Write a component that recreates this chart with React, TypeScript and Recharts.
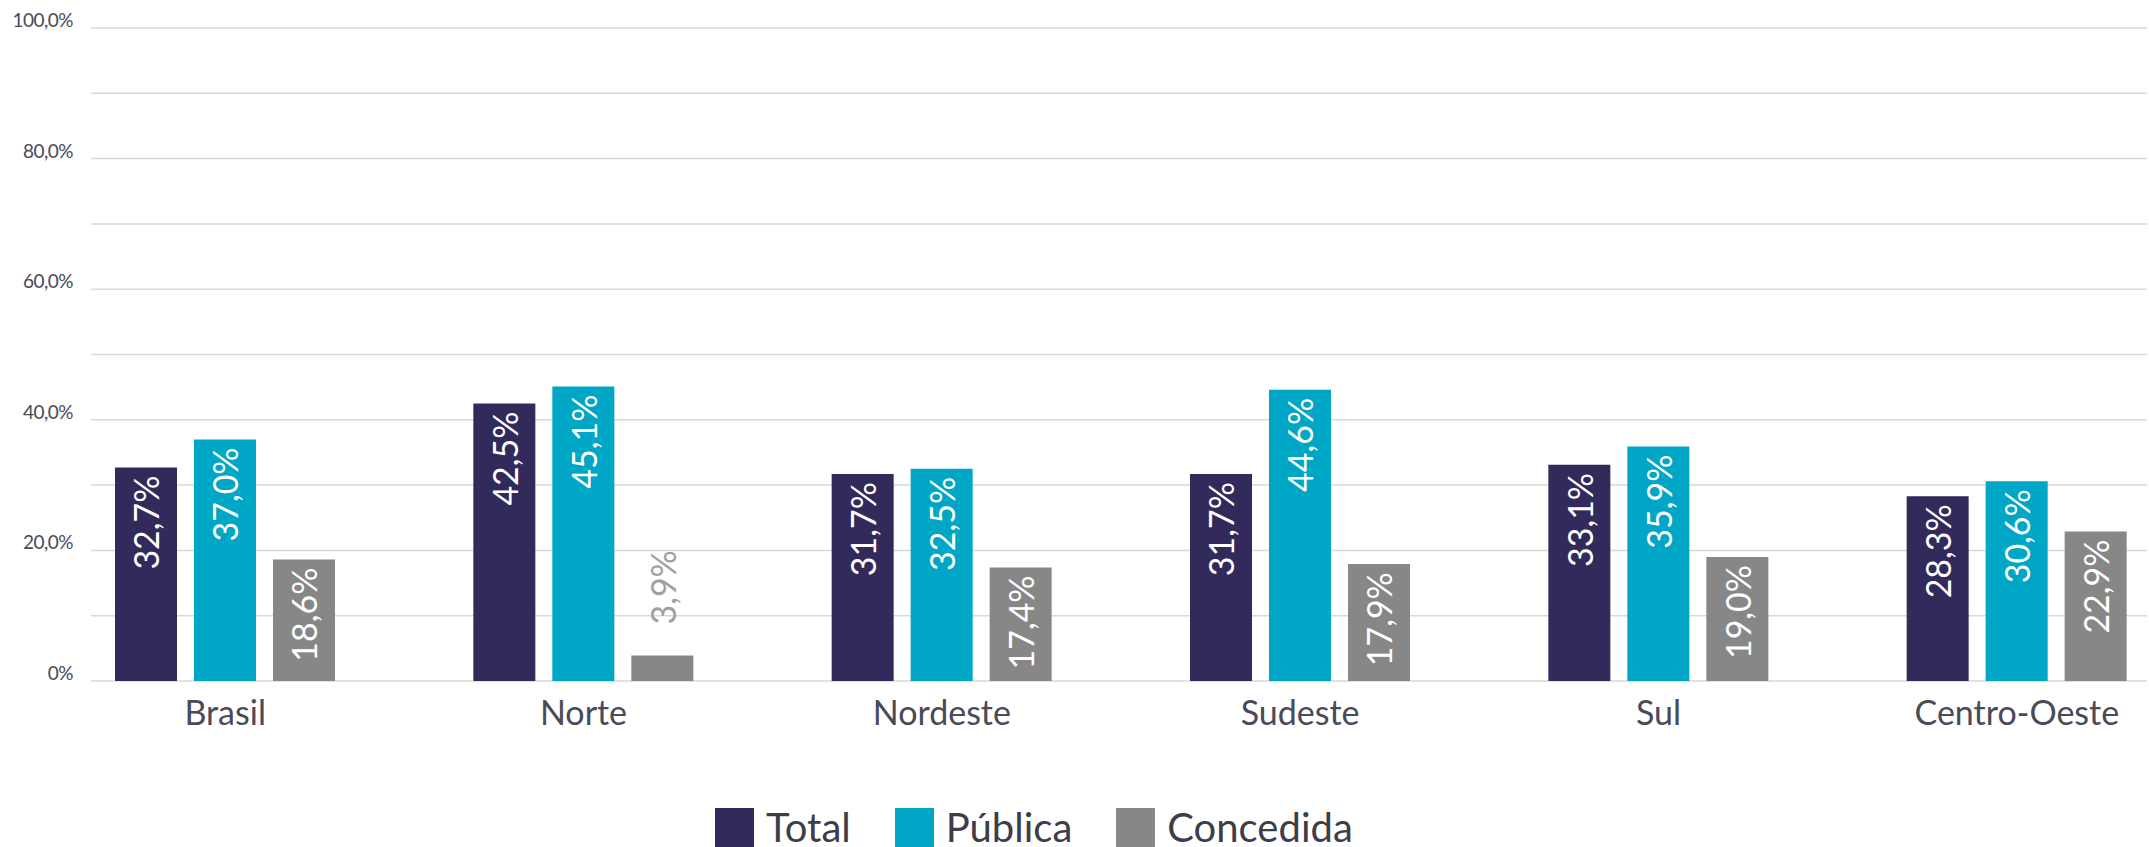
import { BarChart, Bar, XAxis, YAxis, CartesianGrid, Legend, LabelList } from "recharts";

const regions = ["Brasil", "Norte", "Nordeste", "Sudeste", "Sul", "Centro-Oeste"];
const total = [32.7, 42.5, 31.7, 31.7, 33.1, 28.3];
const publica = [37.0, 45.1, 32.5, 44.6, 35.9, 30.6];
const concedida = [18.6, 3.9, 17.4, 17.9, 19.0, 22.9];
const yTicks = [0, 10, 20, 30, 40, 50, 60, 70, 80, 90, 100];

const data = regions.map((region, i) => ({
  region,
  total: total[i],
  publica: publica[i],
  concedida: concedida[i],
}));

const series = [
  { key: "total", name: "Total", color: "#312a5b" },
  { key: "publica", name: "Pública", color: "#00a6c5" },
  { key: "concedida", name: "Concedida", color: "#878787" },
];

const FONT = "Lato, 'Noto Sans', sans-serif";
const fmt = (v: number) => v.toFixed(1).replace(".", ",") + "%";

// value written vertically inside the bar, or above it when the bar is too short
const BarLabel = (props: any) => {
  const { x, y, width, height, value } = props;
  const cx = Number(x) + Number(width) / 2;
  const top = Number(y);
  const inside = Number(height) > 60;
  const ay = inside ? top + 8 : top - 31;
  return (
    <text
      x={cx}
      y={ay}
      transform={`rotate(-90 ${cx} ${ay})`}
      textAnchor={inside ? "end" : "start"}
      dominantBaseline="central"
      fill={inside ? "#ffffff" : "#a0a0a0"}
      fontSize={34}
      fontFamily={FONT}
    >
      {fmt(value)}
    </text>
  );
};

const YTick = (props: any) => {
  const { x, y, payload } = props;
  const v = payload.value;
  if (v % 20 !== 0) return null;
  return (
    <text x={x - 10} y={y - 1} textAnchor="end" fill="#4a4a58" fontSize={19} fontFamily={FONT} letterSpacing={-0.5}>
      {v === 0 ? "0%" : `${v},0%`}
    </text>
  );
};

const XTick = (props: any) => {
  const { x, y, payload } = props;
  return (
    <text x={x} y={y + 36} textAnchor="middle" fill="#4a4a58" fontSize={34} fontFamily={FONT}>
      {payload.value}
    </text>
  );
};

const LegendBox = () => (
  <div style={{ display: "flex", alignItems: "center", fontFamily: FONT, fontSize: 40, color: "#3d3d48" }}>
    {series.map((s, i) => (
      <div key={s.key} style={{ display: "flex", alignItems: "center", marginLeft: i === 0 ? 0 : 44 }}>
        <div style={{ width: 39, height: 39, background: s.color, marginRight: 12 }} />
        <span style={{ lineHeight: "39px" }}>{s.name}</span>
      </div>
    ))}
  </div>
);

export default function App() {
  return (
    <div style={{ position: "absolute", left: 0, top: 0, width: 2149, height: 847, background: "#fff" }}>
      <BarChart
        width={2149}
        height={847}
        data={data}
        margin={{ top: 28, right: 2, left: 0, bottom: 67 }}
        barSize={62}
        barGap={17}
      >
        <CartesianGrid vertical={false} stroke="#d9d9d9" strokeWidth={1.5} />
        <XAxis
          dataKey="region"
          axisLine={false}
          tickLine={false}
          height={60}
          padding={{ left: -45, right: -49 }}
          tick={<XTick />}
          interval={0}
        />
        <YAxis
          domain={[0, 100]}
          ticks={yTicks}
          axisLine={false}
          tickLine={false}
          width={91}
          tick={<YTick />}
          interval={0}
        />
        <Legend
          content={<LegendBox />}
          wrapperStyle={{ position: "absolute", left: 715, top: 808, width: "auto" }}
        />
        {series.map((s) => (
          <Bar key={s.key} dataKey={s.key} name={s.name} fill={s.color} isAnimationActive={false}>
            <LabelList dataKey={s.key} content={<BarLabel />} />
          </Bar>
        ))}
      </BarChart>
    </div>
  );
}
